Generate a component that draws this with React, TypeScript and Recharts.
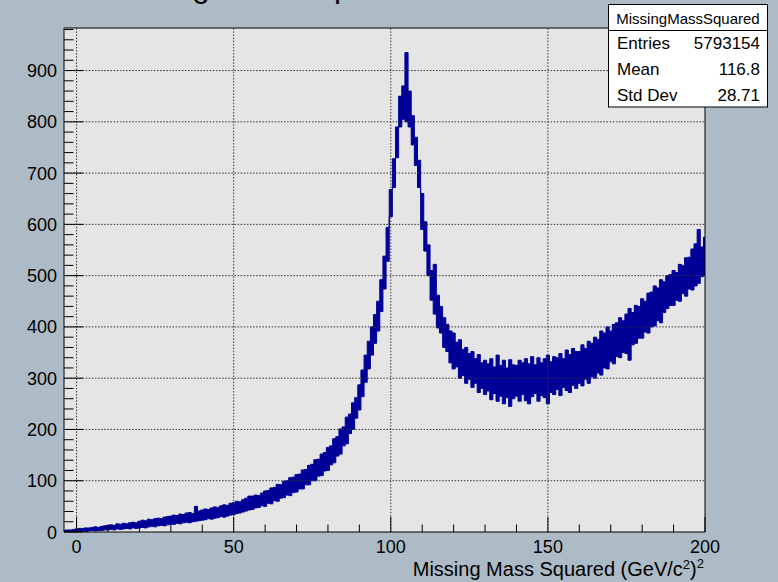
import React from 'react';
import { ComposedChart, Area, XAxis, YAxis, ReferenceLine, CartesianGrid } from 'recharts';

// Histogram "MissingMassSquared": per-unit bins from -4 to 200 GeV^2/c^4.
// Each bin holds the lower and upper envelope of the (very finely binned) noisy spectrum as drawn.
const X_MIN = -4;
const X_MAX = 200;
const Y_MAX = 983;

const lowEdge = [
  0, 0, 0, 1,
  1, 1, 2, 1, 2, 3, 2, 3, 3, 4,
  4, 5, 4, 6, 5, 6, 7, 6, 8, 7,
  8, 9, 8, 10, 11, 10, 12, 13, 12, 14,
  15, 15, 17, 16, 18, 19, 18, 20, 21, 22,
  23, 24, 26, 25, 27, 28, 30, 29, 31, 33,
  34, 36, 37, 39, 41, 43, 44, 47, 48, 51,
  50, 56, 55, 61, 60, 66, 67, 72, 71, 77,
  78, 84, 84, 92, 92, 100, 100, 109, 110, 119,
  120, 131, 135, 148, 152, 168, 172, 192, 200, 222,
  238, 264, 292, 318, 345, 368, 392, 430, 474, 528,
  615, 672, 730, 790, 805, 800, 790, 755, 715, 672,
  590, 548, 500, 452, 425, 398, 388, 360, 352, 330,
  318, 322, 300, 305, 290, 298, 282, 290, 272, 280,
  268, 275, 258, 270, 255, 265, 250, 262, 245, 260,
  265, 255, 268, 256, 250, 264, 270, 255, 266, 262,
  250, 272, 268, 278, 266, 282, 276, 272, 286, 280,
  290, 285, 298, 290, 303, 300, 310, 306, 320, 318,
  332, 328, 342, 340, 350, 348, 335, 365, 368, 378,
  378, 390, 388, 400, 402, 412, 408, 428, 436, 442,
  442, 452, 450, 465, 460, 474, 472, 480, 485, 498,
  500,
];

const highEdge = [
  3, 4, 4, 5,
  6, 7, 7, 8, 8, 9, 10, 9, 11, 12,
  13, 14, 13, 16, 15, 17, 16, 18, 19, 18,
  21, 23, 22, 25, 24, 26, 27, 26, 29, 30,
  31, 33, 32, 35, 34, 37, 38, 36, 50, 41,
  43, 45, 44, 47, 49, 48, 51, 53, 52, 56,
  57, 60, 59, 63, 66, 70, 70, 72, 71, 76,
  80, 81, 86, 87, 93, 92, 99, 100, 106, 107,
  112, 113, 121, 122, 130, 132, 141, 142, 152, 155,
  165, 168, 182, 186, 201, 205, 224, 230, 252, 262,
  287, 316, 345, 372, 400, 424, 450, 492, 538, 594,
  668, 728, 790, 850, 870, 935, 860, 812, 770, 725,
  660, 605, 560, 510, 522, 462, 440, 418, 405, 392,
  388, 370, 375, 356, 360, 348, 352, 338, 346, 330,
  335, 328, 338, 322, 345, 325, 335, 320, 336, 326,
  325, 335, 330, 338, 328, 342, 326, 340, 330, 338,
  345, 332, 342, 340, 348, 338, 355, 346, 358, 352,
  352, 365, 358, 372, 368, 380, 376, 392, 388, 400,
  392, 405, 408, 418, 412, 425, 436, 428, 442, 440,
  455, 450, 466, 468, 480, 476, 492, 488, 500, 502,
  510, 506, 522, 520, 535, 536, 552, 562, 590, 556,
  575,
];

const xTicks = [0, 10, 20, 30, 40, 50, 60, 70, 80, 90, 100, 110, 120, 130, 140, 150, 160, 170, 180, 190, 200];
const xLabelTicks = [0, 50, 100, 150, 200];
const xGrid = [0, 50, 100, 150];
const yTicks = [
  0, 20, 40, 60, 80, 100, 120, 140, 160, 180, 200, 220, 240, 260, 280, 300, 320, 340, 360, 380,
  400, 420, 440, 460, 480, 500, 520, 540, 560, 580, 600, 620, 640, 660, 680, 700, 720, 740, 760, 780,
  800, 820, 840, 860, 880, 900, 920, 940, 960, 980,
];
const yLabelTicks = [0, 100, 200, 300, 400, 500, 600, 700, 800, 900];
const yGrid = [100, 200, 300, 400, 500, 600, 700, 800, 900];

const statsTitle = 'MissingMassSquared';
const statsRows = [
  ['Entries', '5793154'],
  ['Mean', '116.8'],
  ['Std Dev', '28.71'],
];

const data = lowEdge.map((lo, i) => ({ x: X_MIN + i, band: [lo, highEdge[i]] }));

const FONT = '"Liberation Sans", Arial, Helvetica, sans-serif';
const BG = '#adbbc7';
const PLOT_BG = '#e5e5e5';
const LINE = '#000099';

const XTick = (props: any) => {
  const { x, y, payload } = props;
  const v = payload.value;
  const major = xLabelTicks.includes(v);
  return (
    <g>
      <line x1={x} y1={y} x2={x} y2={y - (major ? 15 : 7.5)} stroke="#000" strokeWidth={1} />
      {major && (
        <text x={x} y={y + 21} textAnchor="middle" fontSize={18} fontFamily={FONT} fill="#000">
          {v}
        </text>
      )}
    </g>
  );
};

const YTick = (props: any) => {
  const { x, y, payload } = props;
  const v = payload.value;
  const major = yLabelTicks.includes(v);
  return (
    <g>
      <line x1={x} y1={y} x2={x + (major ? 19 : 9.5)} y2={y} stroke="#000" strokeWidth={1} />
      {major && (
        <text x={x - 7} y={y + 6.5} textAnchor="end" fontSize={18} fontFamily={FONT} fill="#000">
          {v}
        </text>
      )}
    </g>
  );
};

export default function App() {
  return (
    <div style={{ position: 'absolute', left: 0, top: 0, width: 778, height: 582, background: BG, overflow: 'hidden' }}>
      <ComposedChart
        width={778}
        height={582}
        data={data}
        margin={{ top: 28, right: 73, bottom: 49, left: 63 }}
      >
        <CartesianGrid fill={PLOT_BG} horizontal={false} vertical={false} stroke="none" />
        <XAxis
          dataKey="x"
          type="number"
          domain={[X_MIN, X_MAX]}
          allowDataOverflow
          ticks={xTicks}
          interval={0}
          height={1}
          tickSize={0}
          tickMargin={0}
          tickLine={false}
          tick={(p: any) => <XTick {...p} />}
          axisLine={{ stroke: '#000', strokeWidth: 1 }}
        />
        <YAxis
          type="number"
          domain={[0, Y_MAX]}
          allowDataOverflow
          ticks={yTicks}
          interval={0}
          width={1}
          tickSize={0}
          tickMargin={0}
          tickLine={false}
          tick={(p: any) => <YTick {...p} />}
          axisLine={{ stroke: '#000', strokeWidth: 1 }}
        />
        {xGrid.map((v) => (
          <ReferenceLine key={'gx' + v} x={v} stroke="#333" strokeWidth={1} strokeDasharray="1.5 1.6" />
        ))}
        {yGrid.map((v) => (
          <ReferenceLine key={'gy' + v} y={v} stroke="#333" strokeWidth={1} strokeDasharray="1.5 1.6" />
        ))}
        <ReferenceLine y={Y_MAX} stroke="#000" strokeWidth={1} />
        <ReferenceLine x={X_MAX} stroke="#000" strokeWidth={1} />
        <Area
          dataKey="band"
          type="step"
          stroke={LINE}
          strokeWidth={1}
          fill={LINE}
          fillOpacity={1}
          dot={false}
          activeDot={false}
          isAnimationActive={false}
        />
      </ComposedChart>
      <svg
        width={778}
        height={582}
        style={{ position: 'absolute', left: 0, top: 0, pointerEvents: 'none' }}
      >
        <text x={103} y={-3.5} fontSize={31.5} fontFamily={FONT} fill="#000">
          Missing Mass Squared
        </text>
        <rect x={608.5} y={4.5} width={159} height={102.5} fill="#fff" stroke="#000" strokeWidth={1} />
        <line x1={608.5} y1={30.5} x2={767.5} y2={30.5} stroke="#000" strokeWidth={1} />
        <text x={688} y={24} textAnchor="middle" fontSize={15} fontFamily={FONT} fill="#000">
          {statsTitle}
        </text>
        {statsRows.map((r, i) => (
          <g key={r[0]}>
            <text x={617} y={48.5 + i * 26} fontSize={17} fontFamily={FONT} fill="#000">
              {r[0]}
            </text>
            <text x={760} y={48.5 + i * 26} textAnchor="end" fontSize={17} fontFamily={FONT} fill="#000">
              {r[1]}
            </text>
          </g>
        ))}
        <text x={704} y={576} textAnchor="end" fontSize={20} fontFamily={FONT} fill="#000">
          Missing Mass Squared (GeV/c
          <tspan dy={-7} fontSize={13}>2</tspan>
          <tspan dy={7}>)</tspan>
          <tspan dy={-8} fontSize={13}>2</tspan>
        </text>
      </svg>
    </div>
  );
}
